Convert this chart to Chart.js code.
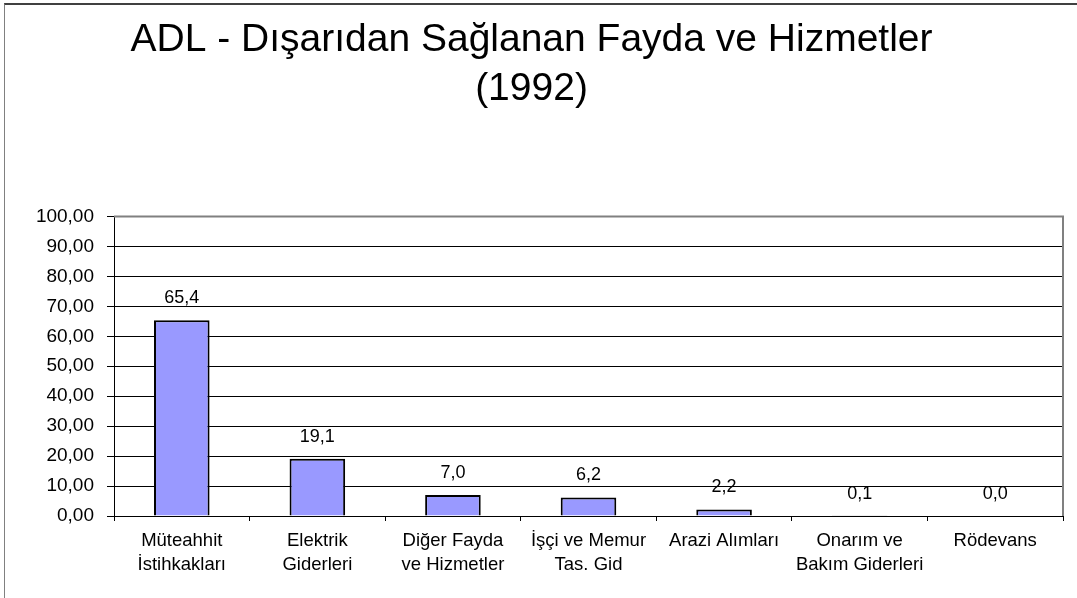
<!DOCTYPE html>
<html>
<head>
<meta charset="utf-8">
<script src="https://cdn.jsdelivr.net/npm/chart.js@4"></script>
<style>
  html,body{margin:0;padding:0;background:#fff;overflow:hidden;}
  #frame{position:absolute;left:4px;top:3px;width:1100px;height:620px;border-top:2px solid #404040;border-left:1px solid #808080;}
  #wrap{position:absolute;left:0;top:0;width:1077px;height:598px;}
</style>
</head>
<body>
<div id="frame"></div>
<div id="wrap"><canvas id="c"></canvas></div>
<script>
const categories=[['Müteahhit','İstihkakları'],['Elektrik','Giderleri'],['Diğer Fayda','ve Hizmetler'],['İşçi ve Memur','Tas. Gid'],'Arazi Alımları',['Onarım ve','Bakım Giderleri'],'Rödevans'];
const values=[65.4,19.1,7.0,6.2,2.2,0.1,0.0];
const yTicks=[0,10,20,30,40,50,60,70,80,90,100];
const titleLines=['ADL - Dışarıdan Sağlanan Fayda ve Hizmetler','(1992)'];

const FONT='"Liberation Sans", Arial, sans-serif';

// value labels above bars
const barLabels={
  id:'barLabels',
  afterDatasetsDraw(chart){
    const ctx=chart.ctx;
    ctx.save();
    ctx.font='18px '+FONT;
    ctx.fillStyle='#000';
    ctx.textAlign='center';
    ctx.textBaseline='middle';
    chart.getDatasetMeta(0).data.forEach((bar,i)=>{
      ctx.fillText(values[i].toFixed(1).replace('.',','),bar.x,bar.y-22);
    });
    ctx.restore();
  }
};

// gray frame on top/right of plot area
const plotFrame={
  id:'plotFrame',
  beforeDatasetsDraw(chart){
    const {ctx,chartArea:a}=chart;
    ctx.save();
    ctx.strokeStyle='#808080';
    ctx.lineWidth=2;
    ctx.beginPath();
    ctx.moveTo(a.left,a.top);ctx.lineTo(a.right,a.top);ctx.lineTo(a.right,a.bottom);
    ctx.stroke();
    ctx.restore();
  }
};

new Chart(document.getElementById('c'),{
  type:'bar',
  data:{labels:categories,datasets:[{data:values,backgroundColor:'#9999FF',borderColor:'#000',borderWidth:2,
    barPercentage:0.41,categoryPercentage:1}]},
  options:{responsive:true,maintainAspectRatio:false,animation:false,
    layout:{padding:{left:0,right:14,top:0,bottom:0}},
    plugins:{
      legend:{display:false},tooltip:{enabled:false},
      title:{display:true,text:titleLines,color:'#000',font:{family:FONT,size:39,weight:'normal',lineHeight:1.25},
        padding:{top:16,bottom:103}}
    },
    scales:{
      x:{grid:{display:true,drawOnChartArea:false,offset:true,tickLength:5,color:'#000'},
        border:{display:true,color:'#000',width:1},
        ticks:{color:'#000',font:{family:FONT,size:18.5,lineHeight:1.28},padding:8,maxRotation:0,autoSkip:false},
        afterFit:s=>{s.height=82;}},
      y:{min:0,max:100,
        afterBuildTicks:s=>{s.ticks=yTicks.map(v=>({value:v}));},
        grid:{color:'#000',tickLength:7},
        border:{display:true,color:'#000',width:1},
        ticks:{color:'#000',font:{family:FONT,size:19},padding:13,callback:v=>v.toFixed(2).replace('.',',')},
        afterFit:s=>{s.width=114;}}
    }
  },
  plugins:[plotFrame,barLabels]
});
</script>
</body>
</html>
